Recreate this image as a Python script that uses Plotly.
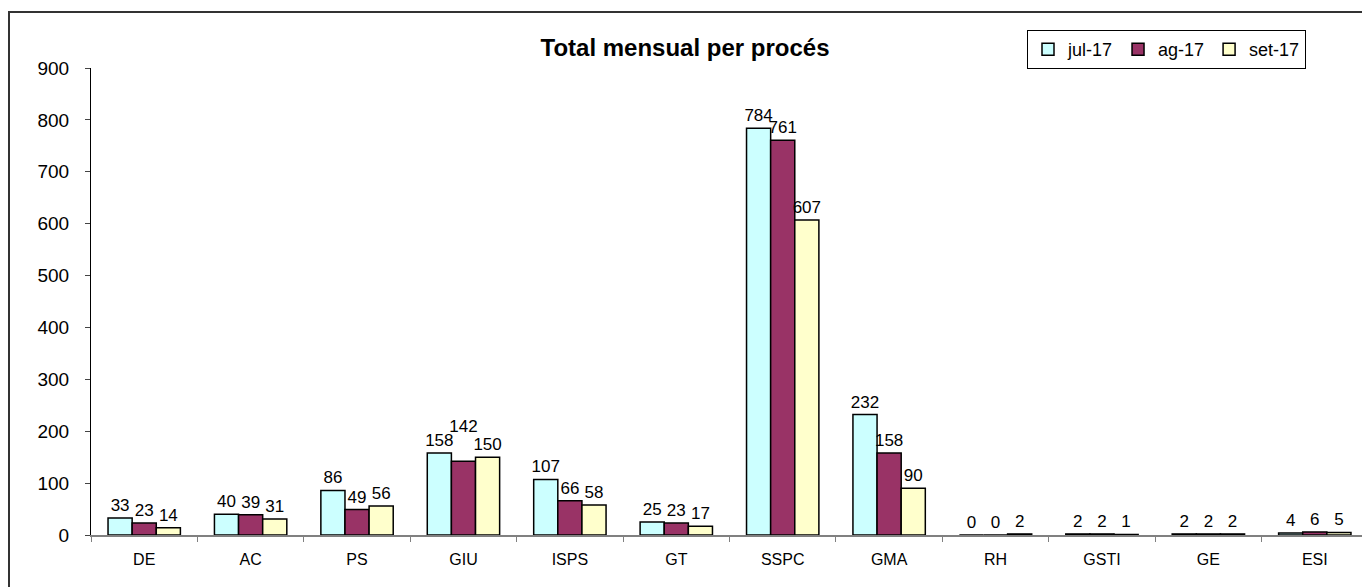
"""Total mensual per proces - grouped bar chart."""
import plotly.graph_objects as go

processes = ["DE", "AC", "PS", "GIU", "ISPS", "GT", "SSPC", "GMA", "RH", "GSTI", "GE", "ESI"]
jul_17 = [33, 40, 86, 158, 107, 25, 784, 232, 0, 2, 2, 4]
ag_17 = [23, 39, 49, 142, 66, 23, 761, 158, 0, 2, 2, 6]
set_17 = [14, 31, 56, 150, 58, 17, 607, 90, 2, 1, 2, 5]

series = [("jul-17", jul_17, "#CCFFFF"),
          ("ag-17", ag_17, "#993366"),
          ("set-17", set_17, "#FFFFCC")]

# labels lifted one line so they clear their neighbours, as in the original
raised = {("ag-17", "GIU")}

FONT = "Arial, Liberation Sans, sans-serif"

# the page body adds an 8px margin, so the figure is 8px smaller each way
W, H = 1362, 579

fig = go.Figure()
for name, values, color in series:
    labels = [f"{v}<br> " if (name, p) in raised else str(v)
              for p, v in zip(processes, values)]
    fig.add_trace(go.Bar(
        x=processes, y=values, name=name,
        marker=dict(color=color, line=dict(color="black", width=1.5)),
        text=labels, textposition="outside", cliponaxis=False,
        textfont=dict(size=17, color="black", family=FONT),
    ))

fig.update_layout(
    width=W, height=H,
    margin=dict(l=83, r=2, t=60, b=52, autoexpand=False),
    plot_bgcolor="white", paper_bgcolor="white",
    font=dict(family=FONT, color="black"),
    barmode="group", bargap=0.32, bargroupgap=0,
    uniformtext=dict(minsize=17, mode="show"),
    title=dict(text="<b>Total mensual per procés</b>", x=677 / W, xanchor="center",
               y=1 - 40 / H, yanchor="middle", font=dict(size=24)),
    legend=dict(orientation="h", x=1019 / W, xref="container", xanchor="left",
                y=1 - 22 / H, yref="container", yanchor="top",
                bordercolor="black", borderwidth=1, bgcolor="white",
                font=dict(size=18), itemwidth=30, tracegroupgap=0),
    showlegend=True,
)

fig.update_yaxes(range=[0, 900], dtick=100, ticks="outside", ticklen=5,
                 showline=True, linecolor="black", linewidth=1, showgrid=False,
                 zeroline=False, tickfont=dict(size=19), ticklabelstandoff=12)
fig.update_xaxes(showline=True, linecolor="#808080", linewidth=1.5, ticks="outside",
                 ticklen=5, tickcolor="#808080", tickson="boundaries", showgrid=False,
                 tickfont=dict(size=16), ticklabelstandoff=9)

# outer chart border, running off the right and bottom edges
fig.add_shape(type="rect", xref="paper", yref="paper",
              x0=-82 / 1277, x1=1.02, y0=-0.2, y1=(527 - 4) / 467,
              line=dict(color="#333333", width=2), fillcolor="rgba(0,0,0,0)")

fig.write_html("out.html")
